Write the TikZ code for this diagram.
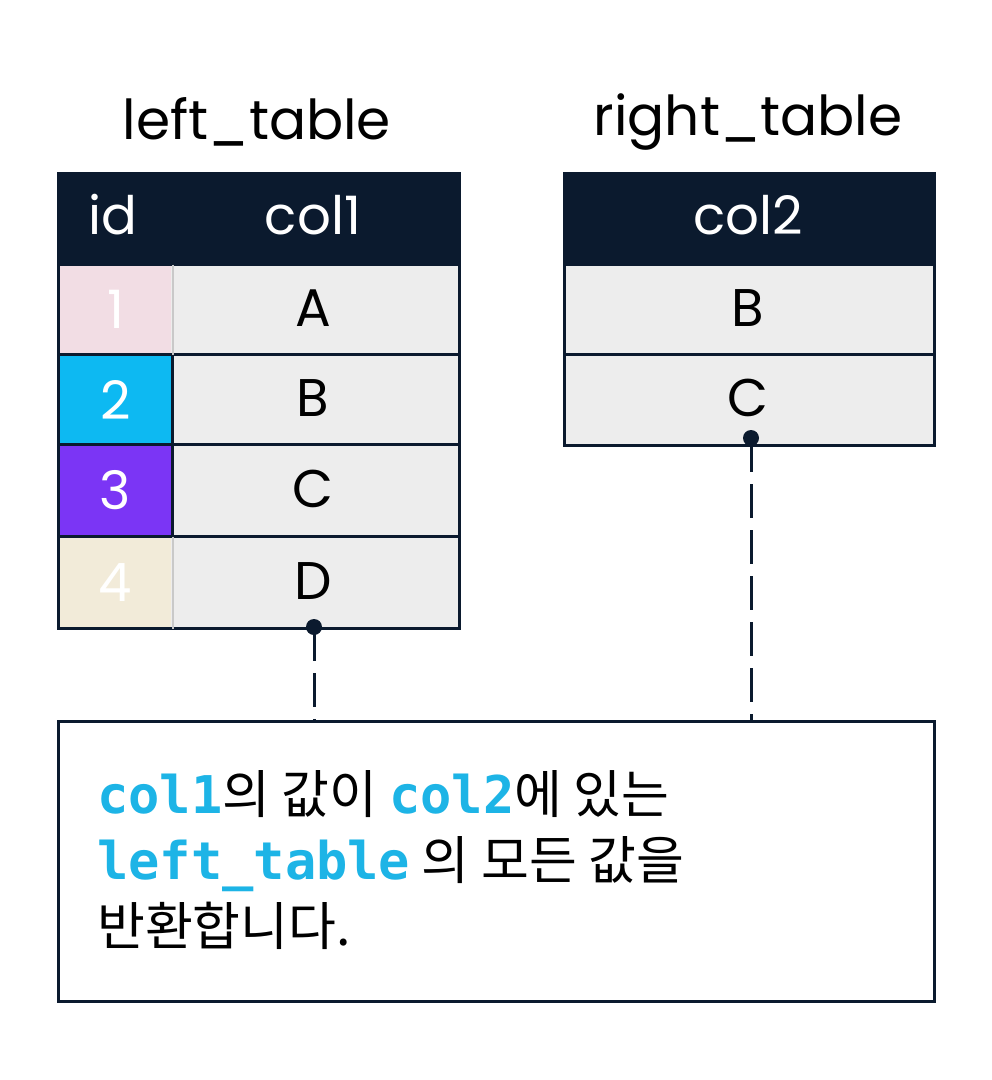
\documentclass[tikz,border=0pt]{standalone}
\usepackage{fontspec}
\setmainfont{Poppins}
\newfontfamily\kr{Noto Sans CJK KR}
\newfontfamily\mono{DejaVu Sans Mono}
\definecolor{navy}{HTML}{0B1A2E}
\definecolor{cellgrey}{HTML}{EDEDED}
\definecolor{pinkc}{HTML}{F2DDE4}
\definecolor{cyanc}{HTML}{0DB9F2}
\definecolor{purplec}{HTML}{7B35F5}
\definecolor{beigec}{HTML}{F2EBD9}
\definecolor{codec}{HTML}{1DB4E6}
\definecolor{sepgrey}{HTML}{C9C9C9}
\begin{document}
\begin{tikzpicture}[x=1pt,y=-1pt,
  cf/.style={font=\fontsize{53}{58}\selectfont},
  cell/.style={draw=navy,line width=3pt,inner sep=0pt,anchor=north west},
  head/.style={cell,fill=navy},
  val/.style={cell,fill=cellgrey},
  title/.style={font=\fontsize{55}{60}\selectfont,text=black},
  dot/.style={circle,fill=navy,inner sep=0pt,minimum size=16pt},
  link/.style={draw=navy,line width=3pt,dash pattern=on 34pt off 12pt}]
\useasboundingbox[fill=white] (0,0) rectangle (992,1080);
% titles
\node[title] (lt) at (257,122) {left\_table};
\node[title] (rt) at (748,122) {right\_table};
% left table
\node[head,minimum width=401pt,minimum height=91pt] (lh) at (57,172) {};
\node[cf,text=white] (hid) at (113,215) {id};
\node[cf,text=white] (hc1) at (313,215) {col1};
\foreach \i/\y/\h/\c/\v in {1/263/90/pinkc/A,2/353/90/cyanc/B,3/443/92/purplec/C,4/535/92/beigec/D}{
  \node[val,minimum width=401pt,minimum height=\h pt] (lr\i) at (57,\y) {};
  \node[cell,draw=none,fill=\c,minimum width=111pt,minimum height=\h pt-3pt] (id\i) at (58.5,\y+1.5) {};
  \node[cf,text=black] (lv\i) at (313,\y+\h/2) {\v};
}
\node[cf,text=white] at (id1.center) {1};
\node[cf,text=white] at (id2.center) {2};
\node[cf,text=white] at (id3.center) {3};
\node[cf,text=white] at (id4.center) {4};
\draw[sepgrey,line width=2pt] (id1.north east) -- (id1.south east);
\draw[navy,line width=3pt] (id2.north east) -- (id2.south east);
\draw[navy,line width=3pt] (id3.north east) -- (id3.south east);
\draw[sepgrey,line width=2pt] (id4.north east) -- (id4.south east);
% right table
\node[head,minimum width=370pt,minimum height=91pt] (rh) at (563,172) {};
\node[cf,text=white] (hc2) at (748,215) {col2};
\node[val,minimum width=370pt,minimum height=90pt] (rr1) at (563,263) {};
\node[val,minimum width=370pt,minimum height=91pt] (rr2) at (563,353) {};
\node[cf,text=black] (rv1) at (748,308) {B};
\node[cf,text=black] (rv2) at (748,398) {C};
% note box
\node[draw=navy,line width=3pt,fill=white,minimum width=876pt,minimum height=280pt,anchor=north west,inner sep=0pt] (note) at (57,720) {};
\node[anchor=base west,align=left,inner sep=0pt,font=\fontsize{52}{66}\selectfont] (txt) at (97,945)
 {{\mono\bfseries\color{codec}col1}{\kr 의 값이 }{\mono\bfseries\color{codec}col2}{\kr 에 있는}\\
  {\mono\bfseries\color{codec}left\_table}{\kr\ 의 모든 값을}\\
  {\kr 반환합니다.}};
% connectors
\coordinate (dl) at (314,627);
\coordinate (dr) at (751,438);
\draw[link] (dl) -- (dl |- note.north);
\draw[link] (dr) -- (dr |- note.north);
\node[dot] (dotl) at (dl) {};
\node[dot] (dotr) at (dr) {};
\end{tikzpicture}
\end{document}
